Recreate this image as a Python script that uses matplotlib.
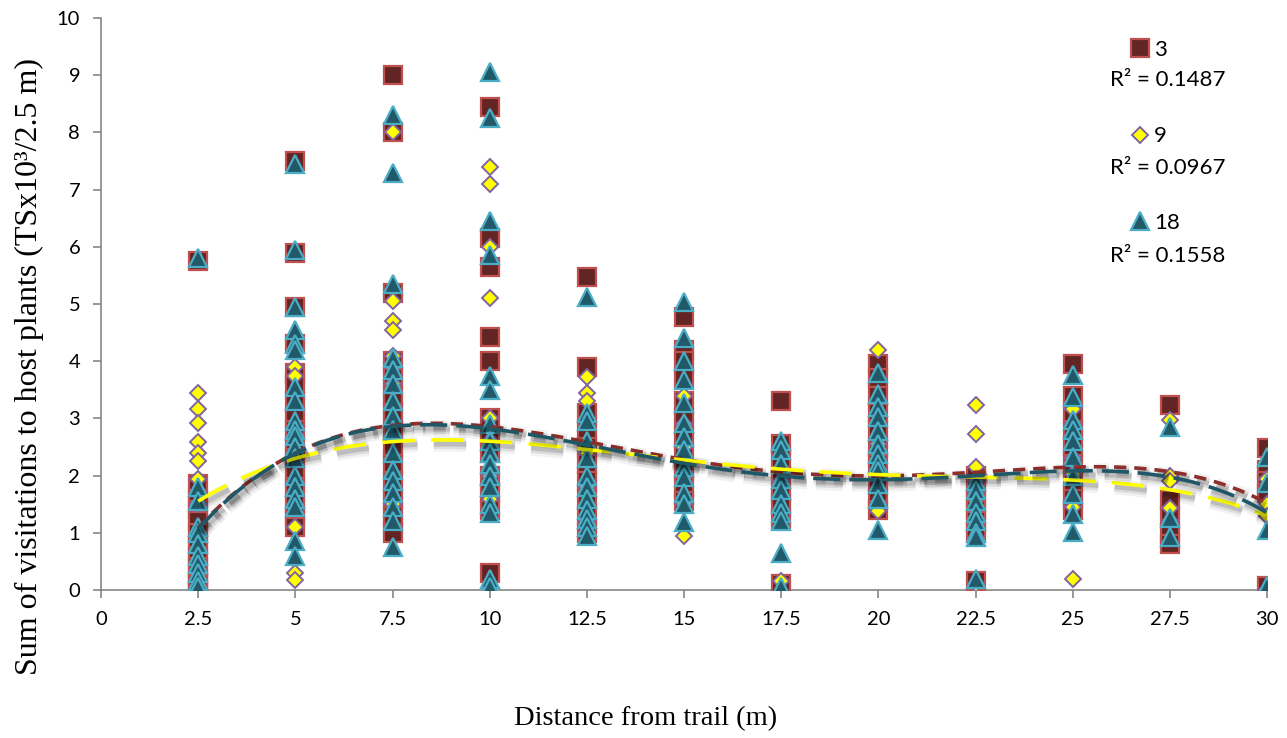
import numpy as np
import matplotlib
matplotlib.use('Agg')
import matplotlib.pyplot as plt
import matplotlib.patheffects as pe
from matplotlib.lines import Line2D

# distances from trail (m)
distances = [2.5, 5, 7.5, 10, 12.5, 15, 17.5, 20, 22.5, 25, 27.5, 30]

# series "3" - squares, one list per distance
s3_values = [
    [5.75, 1.85, 1.6, 1.4, 1.2, 1.0, 0.8, 0.6, 0.4, 0.2, 0.1, 0.0],
    [7.5, 5.9, 4.95, 4.3, 3.8, 3.6, 3.3, 3.0, 2.8, 2.5, 2.3, 2.0, 1.8, 1.5, 1.3, 1.1],
    [9.0, 8.0, 5.2, 4.0, 3.7, 3.4, 3.1, 2.8, 2.5, 2.2, 1.9, 1.6, 1.3, 1.0],
    [8.45, 6.15, 5.65, 4.42, 4.0, 3.0, 2.7, 2.4, 2.0, 1.7, 1.4, 0.3],
    [5.47, 3.9, 3.1, 2.8, 2.5, 2.2, 1.9, 1.6, 1.3, 1.0],
    [4.77, 4.2, 4.0, 3.7, 3.3, 3.0, 2.7, 2.4, 2.1, 1.8, 1.55],
    [3.3, 2.55, 2.3, 2.0, 1.7, 1.5, 1.25, 0.1],
    [3.95, 3.7, 3.4, 3.1, 2.8, 2.5, 2.2, 1.9, 1.6, 1.4],
    [2.0, 1.8, 1.6, 1.4, 1.2, 1.0, 0.15],
    [3.96, 3.4, 3.1, 2.8, 2.5, 2.2, 1.9, 1.6, 1.4],
    [3.23, 1.57, 1.3, 1.0, 0.8],
    [2.48, 2.1, 1.9, 1.7, 0.07],
]

# series "9" - diamonds
s9_values = [
    [3.45, 3.16, 2.92, 2.58, 2.4, 2.25, 1.95, 1.7, 1.5, 0.0],
    [3.9, 3.75, 2.4, 1.1, 0.3, 0.17],
    [8.0, 5.05, 4.7, 4.55, 4.1, 3.9, 3.6, 2.7, 2.0, 1.8, 1.5],
    [7.4, 7.1, 6.0, 5.1, 3.0, 2.6, 2.0, 1.7, 1.6],
    [3.72, 3.44, 3.3, 2.4, 1.8, 1.2],
    [3.4, 2.9, 2.5, 1.5, 0.95],
    [2.5, 2.1, 1.9, 0.15],
    [4.2, 2.55, 2.45, 1.5, 1.38],
    [3.23, 2.72, 2.15, 1.9, 1.7, 0.1],
    [3.17, 2.9, 2.3, 2.03, 1.6, 1.45, 0.19],
    [2.97, 2.0, 1.9, 1.43, 1.2],
    [1.95, 1.5, 1.3, 0.0],
]

# series "18" - triangles
s18_values = [
    [5.8, 1.8, 1.55, 1.1, 1.0, 0.8, 0.6, 0.45, 0.3, 0.15, 0.05],
    [7.45, 5.95, 4.95, 4.55, 4.3, 4.2, 3.55, 3.3, 2.95, 2.8, 2.7, 2.5, 2.3, 2.0, 1.8,
     1.6, 1.45, 0.85, 0.6],
    [8.3, 7.3, 5.35, 4.05, 3.85, 3.6, 3.3, 3.05, 2.8, 2.4, 2.1, 1.9, 1.7, 1.45, 1.2, 0.75],
    [9.05, 8.25, 6.45, 5.85, 3.75, 3.5, 2.9, 2.6, 2.4, 2.2, 2.0, 1.8, 1.5, 1.35, 0.2, 0.05],
    [5.12, 3.1, 2.95, 2.6, 2.3, 2.0, 1.8, 1.6, 1.4, 1.25, 1.1, 0.95],
    [5.03, 4.4, 4.0, 3.67, 3.27, 2.92, 2.68, 2.45, 2.15, 1.98, 1.7, 1.5, 1.19],
    [2.6, 2.45, 2.2, 1.95, 1.75, 1.5, 1.35, 1.2, 0.65, 0.05],
    [3.8, 3.43, 3.2, 3.02, 2.78, 2.55, 2.37, 2.2, 2.08, 1.85, 1.6, 1.05],
    [1.9, 1.75, 1.55, 1.35, 1.2, 1.0, 0.92, 0.2],
    [3.76, 3.37, 2.97, 2.8, 2.6, 2.33, 2.0, 1.68, 1.33, 1.01],
    [2.85, 1.26, 0.93],
    [2.33, 1.87, 1.05, 0.07],
]

# polynomial trendline readings at each distance
trend3 = [1.1, 2.36, 2.9, 2.88, 2.59, 2.24, 2.08, 2.0, 2.08, 2.13, 2.07, 1.52]
trend9 = [1.56, 2.28, 2.62, 2.6, 2.45, 2.27, 2.11, 2.02, 1.98, 1.92, 1.75, 1.3]
trend18 = [1.08, 2.35, 2.9, 2.8, 2.57, 2.18, 1.99, 1.94, 2.0, 2.1, 1.95, 1.36]

r2_labels = ['R² = 0.1487', 'R² = 0.0967', 'R² = 0.1558']
series_names = ['3', '9', '18']

x_ticks = [0, 2.5, 5, 7.5, 10, 12.5, 15, 17.5, 20, 22.5, 25, 27.5, 30]
x_tick_labels = ['0', '2.5', '5', '7.5', '10', '12.5', '15', '17.5', '20', '22.5', '25', '27.5', '30']


def flatten(values):
    xs = np.repeat(distances, [len(v) for v in values])
    ys = np.concatenate([np.asarray(v, dtype=float) for v in values])
    return xs, ys


sq_style = dict(marker='s', ms=12.5, mfc='#632523', mec='#C0504D', mew=1.6)
dm_style = dict(marker='D', ms=8.5, mfc='#FFFF00', mec='#8064A2', mew=1.4)
tr_style = dict(marker='^', ms=13.5, mfc='#215968', mec='#4BACC6', mew=1.6)

fig = plt.figure(figsize=(12.87, 7.38), dpi=100)
ax = fig.add_axes([0.0785, 0.2005, 0.906, 0.775])

x3, y3 = flatten(s3_values)
x9, y9 = flatten(s9_values)
x18, y18 = flatten(s18_values)

ax.plot(x3, y3, ls='none', zorder=3, **sq_style)
ax.plot(x9, y9, ls='none', zorder=4, **dm_style)
ax.plot(x18, y18, ls='none', zorder=5, **tr_style)

# smooth trendlines fitted through the readings, with a soft drop shadow
xs = np.linspace(2.5, 30, 300)
shadow = [pe.SimpleLineShadow(offset=(2, -3), shadow_color='#000000', alpha=0.05, linewidth=11),
          pe.SimpleLineShadow(offset=(2, -3), shadow_color='#000000', alpha=0.09, linewidth=7),
          pe.SimpleLineShadow(offset=(2, -3), shadow_color='#000000', alpha=0.14, linewidth=3.5),
          pe.Normal()]
styles = [
    (trend3, '#8E2F2C', (3.4, 2.2), 7),
    (trend9, '#FFFF00', (9, 4.5), 8),
    (trend18, '#1F5766', (7.5, 2.5), 9),
]
for vals, color, dash, z in styles:
    coef = np.polyfit(distances, vals, 5)
    line, = ax.plot(xs, np.polyval(coef, xs), color=color, lw=2.6, zorder=z)
    line.set_dashes(dash)
    line.set_path_effects(shadow)

ax.set_xlim(0, 30)
ax.set_ylim(0, 10)
ax.set_xticks(x_ticks)
ax.set_xticklabels(x_tick_labels)
ax.set_yticks(range(0, 11))

for side in ['top', 'right']:
    ax.spines[side].set_visible(False)
for side in ['left', 'bottom']:
    ax.spines[side].set_color('#868686')
    ax.spines[side].set_linewidth(1.2)
ax.tick_params(axis='both', colors='#868686', length=6, width=1.2, labelsize=14.5,
               labelcolor='black', direction='out')
ax.tick_params(axis='x', pad=9)
ax.tick_params(axis='y', pad=9)
for lab in ax.get_xticklabels() + ax.get_yticklabels():
    lab.set_family('Lato')

ax.set_xlabel('Distance from trail (m)', family='Liberation Serif', fontsize=20.5)
ax.set_ylabel('Sum of visitations to host plants (TSx10³/2.5 m)', family='Liberation Serif',
              fontsize=23)
ax.xaxis.label.set_va('center')
ax.yaxis.label.set_va('center')
ax.xaxis.set_label_coords(0.4666, -0.224)
ax.yaxis.set_label_coords(-0.061, 0.39)

# legend with R² values under each entry
handles = [Line2D([], [], ls='none', **sq_style),
           Line2D([], [], ls='none', **dm_style),
           Line2D([], [], ls='none', **tr_style)]
leg = ax.legend(handles, series_names, loc='upper left', bbox_to_anchor=(0.866, 0.997),
                frameon=False, prop={'family': 'Lato', 'size': 16}, handlelength=0.8,
                handletextpad=0.25, labelspacing=3.0, borderaxespad=0.5)
for i, txt in enumerate(r2_labels):
    fig.text(1110 / 1287, 1 - (80 + 88 * i) / 738, txt, family='Lato', fontsize=16,
             va='center', ha='left')

fig.savefig('out.png', dpi=100)
